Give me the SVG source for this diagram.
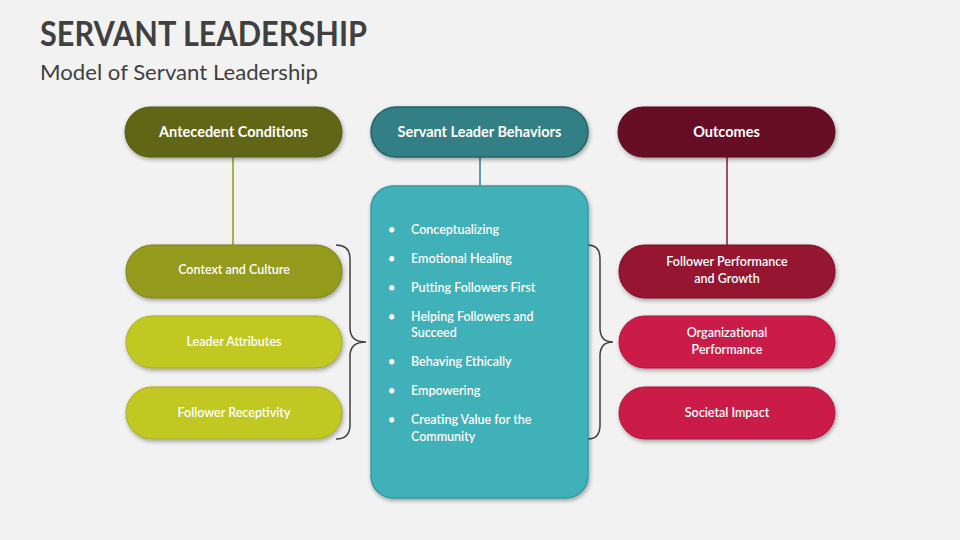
<svg xmlns="http://www.w3.org/2000/svg" width="960" height="540" viewBox="0 0 960 540">
<defs>
<filter id="sh" x="-10%" y="-20%" width="120%" height="150%">
<feDropShadow dx="1" dy="2" stdDeviation="2" flood-color="#000" flood-opacity="0.35"/>
</filter>
</defs>
<style>
.t{font-family:Lato,"Liberation Sans",sans-serif;fill:#fff;text-anchor:middle}
.h{font-size:14.5px;font-weight:bold}
.p{font-size:12.5px;font-weight:600}
.b{font-family:Lato,"Liberation Sans",sans-serif;fill:#fff;font-size:12.5px;font-weight:600}
.brace{fill:none;stroke:#404040;stroke-width:1.5}
</style>
<rect width="960" height="540" fill="#f2f2f2"/>
<text x="40" y="46" font-family="Lato,'Liberation Sans',sans-serif" font-weight="bold" font-size="35" fill="#404040" textLength="327" lengthAdjust="spacingAndGlyphs">SERVANT LEADERSHIP</text>
<text x="40" y="80" font-family="Lato,'Liberation Sans',sans-serif" font-size="22" fill="#404040" textLength="278" lengthAdjust="spacingAndGlyphs">Model of Servant Leadership</text>

<g id="connectors">
<line x1="233" y1="157" x2="233" y2="245" stroke="#8f9a1c" stroke-width="1.5"/>
<line x1="480" y1="157" x2="480" y2="186" stroke="#317f86" stroke-width="1.5"/>
<line x1="727" y1="157" x2="727" y2="245" stroke="#8f1536" stroke-width="1.5"/>
<path class="brace" d="M336,245 Q350,245 350,259 L350,328 Q350,342 366,342 Q350,342 350,356 L350,425 Q350,439 336,439"/>
<path class="brace" d="M588,245 Q600,245 600,259 L600,328 Q600,342 613,342 Q600,342 600,356 L600,425 Q600,439 588,439"/>
</g>

<g id="antecedent">
<rect x="125" y="107" width="217" height="50" rx="25" fill="#606616" stroke="#555b12" filter="url(#sh)"/>
<text class="t h" x="233.5" y="137">Antecedent Conditions</text>
</g>
<g id="behaviors">
<rect x="371" y="107" width="217" height="50" rx="25" fill="#317f86" stroke="#23636a" stroke-width="1.5" filter="url(#sh)"/>
<text class="t h" x="479.5" y="137">Servant Leader Behaviors</text>
</g>
<g id="outcomes">
<rect x="618" y="107" width="217" height="50" rx="25" fill="#670d25" stroke="#5a0a20" filter="url(#sh)"/>
<text class="t h" x="726.5" y="137">Outcomes</text>
</g>

<g id="context">
<rect x="126" y="245" width="216" height="53" rx="26" fill="#939a1c" stroke="#7c8216" filter="url(#sh)"/>
<text class="t p" x="234" y="274">Context and Culture</text>
</g>
<g id="leader-attributes">
<rect x="126" y="316" width="216" height="52" rx="26" fill="#c2c822" stroke="#a7ac1c" filter="url(#sh)"/>
<text class="t p" x="234" y="346">Leader Attributes</text>
</g>
<g id="follower-receptivity">
<rect x="126" y="387" width="216" height="52" rx="26" fill="#c2c822" stroke="#a7ac1c" filter="url(#sh)"/>
<text class="t p" x="234" y="417">Follower Receptivity</text>
</g>

<g id="behaviors-list">
<rect x="371" y="186" width="217" height="312" rx="22" fill="#41b0b9" stroke="#359aa2" stroke-width="1.5" filter="url(#sh)"/>
<g class="b">
<text x="388" y="234">•</text><text x="411" y="234">Conceptualizing</text>
<text x="388" y="263">•</text><text x="411" y="263">Emotional Healing</text>
<text x="388" y="292">•</text><text x="411" y="292">Putting Followers First</text>
<text x="388" y="321">•</text><text x="411" y="321">Helping Followers and</text><text x="411" y="337">Succeed</text>
<text x="388" y="366">•</text><text x="411" y="366">Behaving Ethically</text>
<text x="388" y="395">•</text><text x="411" y="395">Empowering</text>
<text x="388" y="424">•</text><text x="411" y="424">Creating Value for the</text><text x="411" y="441">Community</text>
</g>
</g>

<g id="follower-performance">
<rect x="619" y="245" width="216" height="53" rx="26" fill="#961233" stroke="#7e0e2a" filter="url(#sh)"/>
<text class="t p" x="727" y="266">Follower Performance</text>
<text class="t p" x="727" y="283">and Growth</text>
</g>
<g id="organizational-performance">
<rect x="619" y="316" width="216" height="52" rx="26" fill="#cb1a48" stroke="#b0153d" filter="url(#sh)"/>
<text class="t p" x="727" y="337">Organizational</text>
<text class="t p" x="727" y="354">Performance</text>
</g>
<g id="societal-impact">
<rect x="619" y="387" width="216" height="52" rx="26" fill="#cb1a48" stroke="#b0153d" filter="url(#sh)"/>
<text class="t p" x="727" y="417">Societal Impact</text>
</g>
</svg>
